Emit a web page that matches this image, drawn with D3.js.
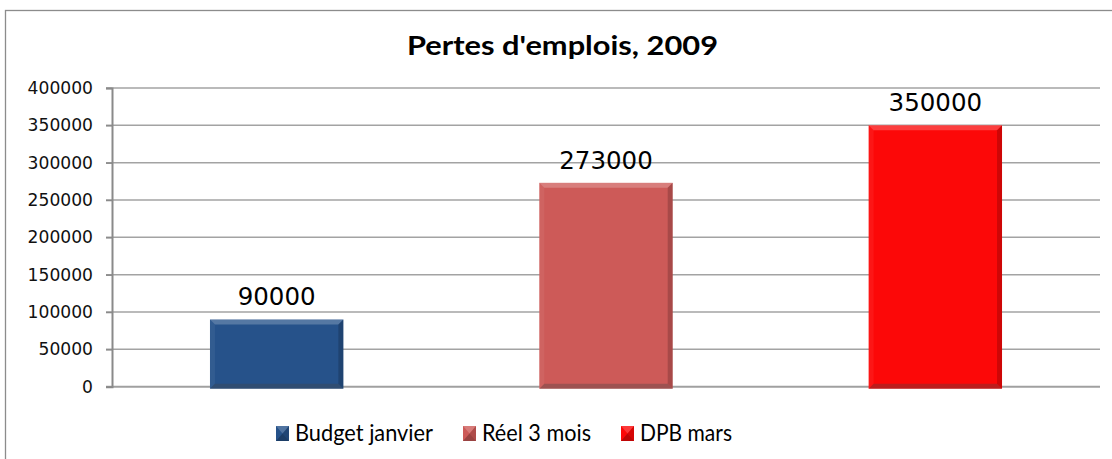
<!DOCTYPE html>
<html>
<head>
<meta charset="utf-8">
<script src="https://cdn.jsdelivr.net/npm/d3@7"></script>
<style>
  body { margin: 0; background: #fff; }
  svg { display: block; }
</style>
</head>
<body>
<div id="chart"></div>
<script>
// données
var categories = ["Budget janvier", "Réel 3 mois", "DPB mars"];
var values = [90000, 273000, 350000];
var colors = ["#26528a", "#cd5a58", "#fc0808"];
var yTicks = [0, 50000, 100000, 150000, 200000, 250000, 300000, 350000, 400000];
var title = "Pertes d'emplois, 2009";

var W = 1112, H = 459;

var svg = d3.select("#chart")
    .append("svg")
    .attr("width", W)
    .attr("height", H);

// cadre extérieur
svg.append("rect")
    .attr("x", 5.5).attr("y", 10.5)
    .attr("width", W + 20).attr("height", H + 20)
    .attr("fill", "white")
    .attr("stroke", "#8c8c8c")
    .attr("stroke-width", 1.3);

var plot = {left: 112, right: 1100, top: 88, bottom: 386.7};

var yScale = d3.scaleLinear()
    .domain([0, 400000])
    .range([plot.bottom, plot.top]);

var xScale = d3.scaleBand()
    .domain(categories)
    .range([plot.left, plot.right])
    .paddingInner(0.595)
    .paddingOuter(0.2975);

// grille
svg.append("g")
    .selectAll("line")
    .data(yTicks)
    .enter()
    .append("line")
    .attr("x1", plot.left - 6)
    .attr("x2", plot.right)
    .attr("y1", function(d) { return yScale(d); })
    .attr("y2", function(d) { return yScale(d); })
    .attr("stroke", function(d) { return d === 0 ? "#a0a0a0" : "#a3a3a3"; })
    .attr("stroke-width", function(d) { return d === 0 ? 2 : 1.5; });

// axe Y
var yAxis = svg.append("g")
    .attr("transform", "translate(" + plot.left + ",0)")
    .call(d3.axisLeft(yScale)
        .tickValues(yTicks)
        .tickSize(6)
        .tickPadding(13)
        .tickFormat(d3.format("d")));

yAxis.select(".domain").attr("stroke", "#8a8a8a").attr("stroke-width", 2);
yAxis.selectAll(".tick line").attr("stroke", "#8a8a8a").attr("stroke-width", 1.5);
yAxis.selectAll(".tick text")
    .attr("fill", "#111")
    .style("font-family", "DejaVu Sans")
    .style("font-size", "17px")
    .attr("textLength", 65)
    .attr("lengthAdjust", "spacingAndGlyphs")
    .attr("textLength", function(d) { return String(d).length * 10.9; });

// barres avec effet biseauté
var bevel = 5;
var bars = svg.append("g")
    .selectAll("g")
    .data(values)
    .enter()
    .append("g");

function geom(d, i) {
    var x0 = xScale(categories[i]);
    var w = xScale.bandwidth();
    var y0 = yScale(d);
    var h = yScale(0) - y0 + 2;
    return {x0: x0, y0: y0, w: w, h: h};
}

bars.append("rect")
    .attr("x", function(d, i) { return geom(d, i).x0; })
    .attr("y", function(d, i) { return geom(d, i).y0; })
    .attr("width", xScale.bandwidth())
    .attr("height", function(d, i) { return geom(d, i).h; })
    .attr("fill", function(d, i) { return colors[i]; });

function bevelPath(side) {
    return function(d, i) {
        var g = geom(d, i), b = bevel;
        var x0 = g.x0, y0 = g.y0, x1 = g.x0 + g.w, y1 = g.y0 + g.h;
        var pts;
        if (side === "top") pts = [[x0, y0], [x1, y0], [x1 - b, y0 + b], [x0 + b, y0 + b]];
        if (side === "left") pts = [[x0, y0], [x0 + b, y0 + b], [x0 + b, y1 - b], [x0, y1]];
        if (side === "right") pts = [[x1, y0], [x1 - b, y0 + b], [x1 - b, y1 - b], [x1, y1]];
        if (side === "bottom") pts = [[x0, y1], [x0 + b, y1 - b], [x1 - b, y1 - b], [x1, y1]];
        return "M" + pts.join("L") + "Z";
    };
}

bars.append("path").attr("d", bevelPath("top")).attr("fill", "white").attr("opacity", 0.22);
bars.append("path").attr("d", bevelPath("left")).attr("fill", "white").attr("opacity", 0.06);
bars.append("path").attr("d", bevelPath("right")).attr("fill", "black").attr("opacity", 0.18);
bars.append("path").attr("d", bevelPath("bottom")).attr("fill", "#444").attr("opacity", 0.35);

// étiquettes de valeurs
bars.append("text")
    .attr("x", function(d, i) { return xScale(categories[i]) + xScale.bandwidth() / 2; })
    .attr("y", function(d) { return yScale(d) - 14; })
    .attr("text-anchor", "middle")
    .style("font-family", "DejaVu Sans")
    .style("font-size", "24.5px")
    .attr("fill", "#000")
    .text(function(d) { return d; });

// titre
svg.append("text")
    .attr("x", 562.5)
    .attr("y", 55)
    .attr("text-anchor", "middle")
    .attr("textLength", 311)
    .attr("lengthAdjust", "spacingAndGlyphs")
    .style("font-family", "Lato")
    .style("font-weight", "bold")
    .style("font-size", "27px")
    .attr("fill", "#000")
    .text(title);

// légende
var legendX = [276, 463, 621];
var legendW = [138, 109, 92];
var legend = svg.append("g")
    .selectAll("g")
    .data(categories)
    .enter()
    .append("g")
    .attr("transform", function(d, i) { return "translate(" + legendX[i] + ",426)"; });

legend.append("rect")
    .attr("width", 13).attr("height", 15)
    .attr("fill", function(d, i) { return colors[i]; });

legend.append("path")
    .attr("d", "M0,0L13,0L6.5,7.5Z")
    .attr("fill", "white").attr("opacity", 0.2);
legend.append("path")
    .attr("d", "M13,0L13,15L6.5,7.5Z")
    .attr("fill", "black").attr("opacity", 0.15);
legend.append("path")
    .attr("d", "M0,15L13,15L6.5,7.5Z")
    .attr("fill", "black").attr("opacity", 0.25);

legend.append("text")
    .attr("x", 19)
    .attr("y", 15)
    .attr("textLength", function(d, i) { return legendW[i]; })
    .attr("lengthAdjust", "spacingAndGlyphs")
    .style("font-family", "Lato")
    .style("font-size", "24px")
    .attr("fill", "#000")
    .text(function(d) { return d; });
</script>
</body>
</html>
